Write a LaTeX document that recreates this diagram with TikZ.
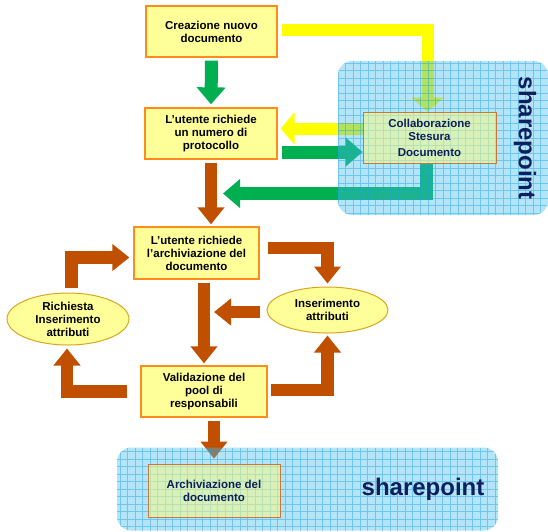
\documentclass[tikz,border=0pt]{standalone}
\usepackage{fontspec}
\newfontfamily\arialfont{Liberation Sans}
\usetikzlibrary{arrows.meta}
\usetikzlibrary{shapes.geometric}
\pgfdeclarelayer{glass}
\pgfdeclarelayer{foreground}
\pgfsetlayers{main,glass,foreground}
\definecolor{boxyellow}{HTML}{FFFF99}
\definecolor{boxorange}{HTML}{FF8C1A}
\definecolor{ovalgold}{HTML}{D9A521}
\definecolor{arrowgreen}{HTML}{00B050}
\definecolor{arrowyellow}{HTML}{FFFF00}
\definecolor{arrowbrown}{HTML}{C04F00}
\definecolor{spblue}{HTML}{43BBED}
\definecolor{spgrid}{HTML}{1AA0E0}
\definecolor{spnavy}{HTML}{0D1F5C}
\definecolor{spborder}{HTML}{C87838}
\newcommand{\boxfont}{\arialfont\bfseries\fontsize{11.5}{13}\selectfont}
\newcommand{\splabelfont}{\arialfont\bfseries\fontsize{24}{26}\selectfont}

\begin{document}
\begin{tikzpicture}[x=1pt,y=-1pt]
    \tikzset{doc_box/.style = {rectangle,draw=boxorange,line width=1.3pt,fill=boxyellow,align=center,font=\boxfont,inner sep=2pt}}
    \tikzset{attr_oval/.style = {ellipse,draw=ovalgold,line width=1pt,fill=boxyellow,align=center,font=\boxfont,inner sep=0pt}}
    \tikzset{sp_box/.style = {rectangle,draw=spborder,line width=0.8pt,fill=boxyellow!80!yellow,fill opacity=0.5,text opacity=1,text=spnavy,align=center,font=\boxfont}}
    \tikzset{sp_grid/.style = {draw=spgrid,draw opacity=0.45,line width=0.9pt}}
    \tikzset{sp_area/.style = {rectangle,rounded corners=14pt,fill=spblue,fill opacity=0.4,path picture={\draw[sp_grid] (path picture bounding box.south west) grid[step=7.5pt] (path picture bounding box.north east);}}}
    \tikzset{sp_label/.style = {text=spnavy,font=\splabelfont,inner sep=0pt}}
    \tikzset{green_arrow/.style = {draw=arrowgreen,line width=13pt,line join=miter,-{Triangle[width=28pt,length=17pt]}}}
    \tikzset{yellow_arrow/.style = {draw=arrowyellow,line width=12pt,line join=miter,-{Triangle[width=32pt,length=14pt]}}}
    \tikzset{brown_arrow/.style = {draw=arrowbrown,line width=12.5pt,line join=miter,-{Triangle[width=26pt,length=17pt]}}}

    \useasboundingbox (0,0) rectangle (548,531);

    % process boxes
    \node[doc_box,minimum width=131pt,minimum height=51pt] (crea) at (211.5,31.5) {Creazione nuovo\\documento};
    \node[doc_box,minimum width=132pt,minimum height=51pt] (proto) at (211,133.5) {L’utente richiede\\un numero di\\protocollo};
    \node[doc_box,minimum width=125pt,minimum height=52pt] (archreq) at (196.5,253) {L’utente richiede\\l’archiviazione del\\documento};
    \node[doc_box,minimum width=126pt,minimum height=51pt] (valid) at (204,391.5) {Validazione del\\pool di\\responsabili};
    \node[attr_oval,minimum width=122pt,minimum height=52pt] (rich) at (68,319) {Richiesta\\Inserimento\\attributi};
    \node[attr_oval,minimum width=121pt,minimum height=46pt] (ins) at (327.5,310) {Inserimento\\attributi};

    % sharepoint
    \begin{pgfonlayer}{glass}
        \node[sp_area,minimum width=210pt,minimum height=154pt] (sp_top) at (443,138) {};
        \node[sp_area,minimum width=381pt,minimum height=83pt] (sp_bottom) at (307.5,489) {};
    \end{pgfonlayer}
    \begin{pgfonlayer}{foreground}
        \node[sp_box,minimum width=133pt,minimum height=51pt] (collab) at (429.5,137.5) {Collaborazione\\Stesura\\[3pt]Documento};
        \node[sp_box,minimum width=132pt,minimum height=53pt] (archiv) at (214,490.5) {Archiviazione del\\documento};
        \node[sp_label,rotate=-90] (sp_top_label) at (525,138) {sharepoint};
        \node[sp_label] (sp_bottom_label) at (423,489) {sharepoint};
    \end{pgfonlayer}

    % arrows
    \coordinate (g_tip) at (223,193.5);
    \draw[green_arrow] ([yshift=-3pt]crea.south) -- ([yshift=3pt]proto.north);
    \draw[yellow_arrow] ([xshift=4pt,yshift=1.5pt]crea.east) -| ([xshift=-2pt]collab.north);
    \draw[yellow_arrow] ([yshift=9pt]collab.west) -- ([xshift=3pt,yshift=9pt]collab.west -| proto.east);
    \draw[green_arrow] ([xshift=4pt,yshift=-18.5pt]proto.east) -- ([yshift=-18.5pt]proto.east -| collab.west);
    \draw[green_arrow] ([xshift=-3.5pt]collab.south) |- (g_tip);
    \draw[brown_arrow] ([yshift=-3pt]proto.south) -- ([yshift=2pt]proto.south |- archreq.north);
    \draw[brown_arrow] ([yshift=-3pt]archreq.south -| valid.north) -- ([yshift=2pt]valid.north);
    \draw[brown_arrow] ([xshift=8pt,yshift=5pt]archreq.east) -| ([yshift=3pt]ins.north);
    \draw[brown_arrow] ([xshift=-7pt,yshift=-2pt]ins.west) -- ([xshift=10pt,yshift=-2pt]ins.west -| valid.north);
    \draw[brown_arrow] ([xshift=3pt,yshift=1.5pt]valid.east) -| ([yshift=-2pt]ins.south);
    \draw[brown_arrow] ([xshift=-13pt]valid.west) -| ([xshift=-1pt,yshift=-3pt]rich.south);
    \draw[brown_arrow] ([xshift=3.5pt,yshift=5pt]rich.north) |- ([xshift=-4pt,yshift=-4.5pt]archreq.west);
    \draw[brown_arrow] ([yshift=-3pt]valid.south -| archiv.north) -- ([yshift=5pt]archiv.north);
\end{tikzpicture}
\end{document}
